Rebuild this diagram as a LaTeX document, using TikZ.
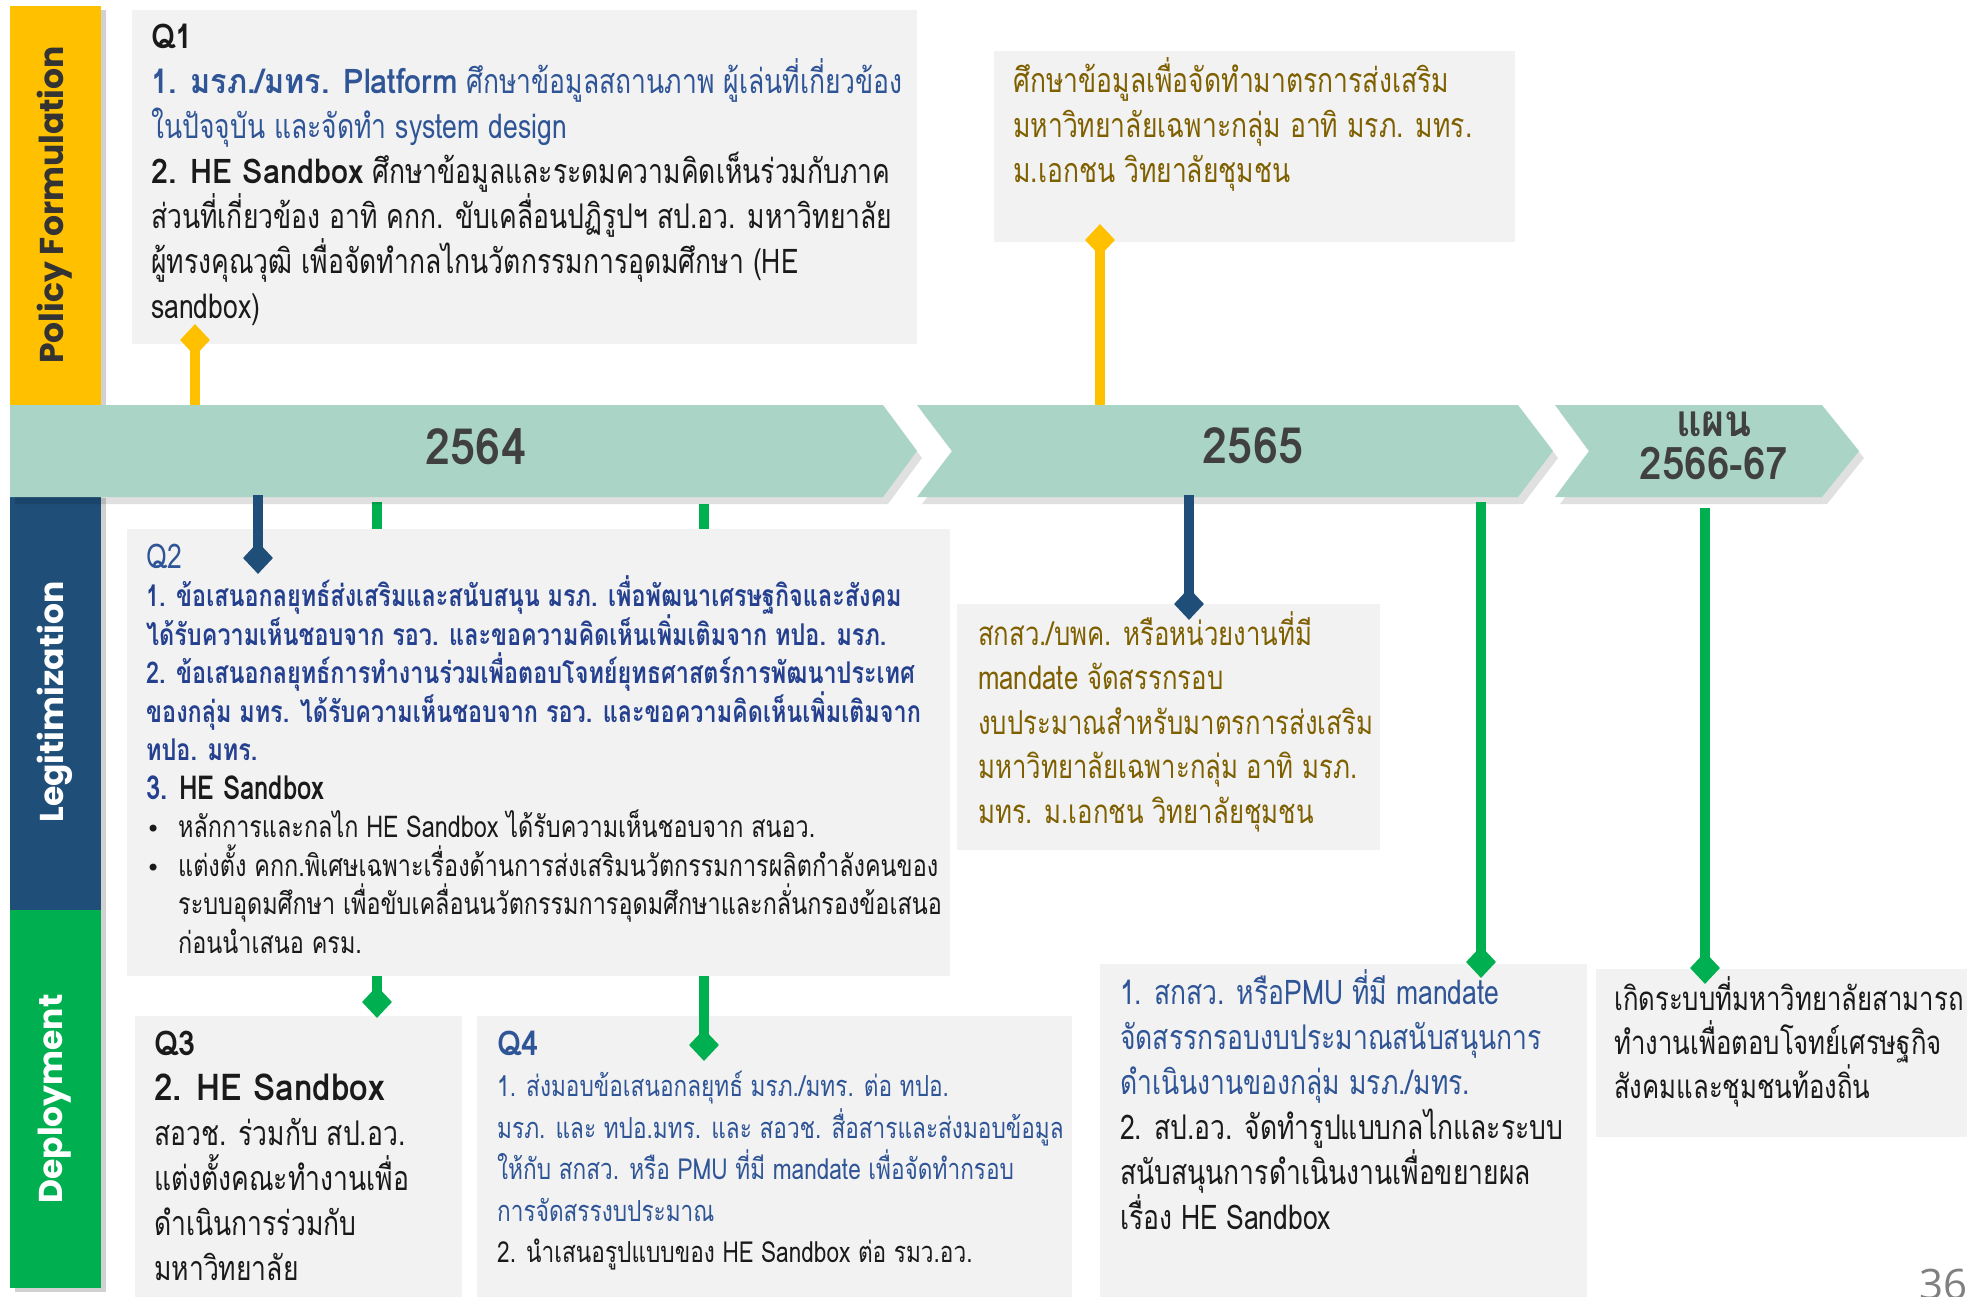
\documentclass[tikz,border=0pt]{standalone}
\usepackage{fontspec}
\usetikzlibrary{shapes.geometric}
\newfontfamily\thf[Script=Thai,FakeStretch=0.78,BoldFeatures={FakeStretch=0.9}]{Loma}
\newfontfamily\thq[Script=Thai,FakeStretch=0.78]{Loma}
\newfontfamily\labf{Poppins}
\newfontfamily\symf{DejaVu Sans}
\newfontfamily\pagef{Open Sans}
\definecolor{yel}{HTML}{FFC000}
\definecolor{navy}{HTML}{1F4E79}
\definecolor{grn}{HTML}{00B050}
\definecolor{tl}{HTML}{AAD4C6}
\definecolor{boxg}{HTML}{F2F2F2}
\definecolor{bluet}{HTML}{2F5597}
\definecolor{navyt}{HTML}{24408E}
\definecolor{olv}{HTML}{7F6000}
\definecolor{blk}{HTML}{1A1A1A}
\definecolor{yeart}{HTML}{404040}
\newcommand\lines[1]{\vtop{\lineskiplimit=-\maxdimen\lineskip=0pt\relax #1}}
\newcommand\bul{\makebox[32pt][l]{\symf\fontsize{24}{20}\selectfont •}}
\tikzset{
  box/.style={fill=boxg, anchor=north west, inner sep=0pt, outer sep=0pt},
  txt/.style={anchor=base west, inner sep=0pt, text=blk, font=\thf\fontsize{34}{45}\selectfont},
  conn/.style={line width=10pt},
  dia/.style={diamond, inner sep=0pt, minimum width=30pt, minimum height=32pt, fill=#1, draw=none},
  bar/.style={fill=#1, anchor=north west, inner sep=0pt, outer sep=0pt, minimum width=91pt},
  barlab/.style={rotate=90, inner sep=0pt, font=\labf\bfseries\fontsize{33}{36}\selectfont},
  year/.style={anchor=base, inner sep=0pt, text=yeart, font=\thf\bfseries\fontsize{50}{50}\selectfont},
  shad/.style={fill=black, opacity=#1, draw=none},
}
\begin{document}
\begin{tikzpicture}[x=1pt, y=-1pt]
\useasboundingbox (0,0) rectangle (1967,1296);

% side bars with shadows
\fill[shad=0.18] (15,10) rectangle (106,410);
\fill[shad=0.18] (15,498) rectangle (106,1292);
\node[bar=yel, minimum height=400pt] (pfbar) at (10,6) {};
\node[bar=navy, minimum height=417pt] (lgbar) at (10,494) {};
\node[bar=grn, minimum height=378pt] (dpbar) at (10,910) {};
\node[barlab, text=black!80] (pflab) at (55,205) {Policy Formulation};
\node[barlab, text=white] (lglab) at (55,702) {Legitimization};
\node[barlab, text=white] (dplab) at (55,1099) {Deployment};

% boxes (bottom row first)
\node[box, minimum width=327pt, minimum height=290pt] (q3box) at (135,1016) {};
\node[box, minimum width=595pt, minimum height=290pt] (q4box) at (477,1016) {};
\node[box, minimum width=487pt, minimum height=340pt] (r1box) at (1100,964) {};
\node[box, minimum width=380pt, minimum height=168pt] (r2box) at (1596,969) {};
\node[box, minimum width=785pt, minimum height=334pt] (q1box) at (132,10) {};
\node[box, minimum width=521pt, minimum height=191pt] (t65box) at (994,51) {};
\node[box, minimum width=423pt, minimum height=246pt] (l65box) at (957,604) {};

% connector start points
\coordinate (s1) at (195,405);
\coordinate (s2) at (1100,405);
\coordinate (s3) at (258,495);
\coordinate (s4) at (377,502);
\coordinate (s5) at (704,504);
\coordinate (s6) at (1189,495);
\coordinate (s7) at (1481,502);
\coordinate (s8) at (1705,508);

% diamonds positions
\coordinate (p1) at (195,340);
\coordinate (p2) at (1100,240);
\coordinate (p3) at (258,558);
\coordinate (p4) at (377,1002);
\coordinate (p5) at (704,1045);
\coordinate (p6) at (1189,604);
\coordinate (p7) at (1481,962);
\coordinate (p8) at (1705,968);

% green lines passing behind Q2 box
\draw[conn, grn] (s4) -- (p4);
\draw[conn, grn] (s5) -- (p5);

\node[box, minimum width=823pt, minimum height=447pt] (q2box) at (127,529) {};

% timeline chevrons with shadows
\fill[shad=0.12] (15,412) -- (888,412) -- (922,458) -- (888,504) -- (15,504) -- cycle;
\fill[shad=0.12] (922,412) -- (1523,412) -- (1558,458) -- (1523,504) -- (922,504) -- (957,458) -- cycle;
\fill[shad=0.12] (1560,412) -- (1827,412) -- (1864,458) -- (1827,504) -- (1560,504) -- (1594,458) -- cycle;
\fill[tl] (10,405) -- (883,405) -- (917,451) -- (883,497) -- (10,497) -- cycle;
\fill[tl] (917,405) -- (1518,405) -- (1553,451) -- (1518,497) -- (917,497) -- (952,451) -- cycle;
\fill[tl] (1555,405) -- (1822,405) -- (1859,451) -- (1822,497) -- (1555,497) -- (1589,451) -- cycle;
\node[year] (y64) at (476,464) {2564};
\node[year] (y65) at (1253,463) {2565};
\node[year, font=\thf\bfseries\fontsize{44}{46}\selectfont] (y66a) at (1714,436) {แผน};
\node[year, font=\thf\bfseries\fontsize{45}{46}\selectfont] (y66b) at (1714,479) {2566-67};

% other connectors
\draw[conn, yel] (s1) -- (p1);
\draw[conn, yel] (s2) -- (p2);
\draw[conn, navy] (s3) -- (p3);
\draw[conn, navy] (s6) -- (p6);
\draw[conn, grn] (s7) -- (p7);
\draw[conn, grn] (s8) -- (p8);

% diamonds
\node[dia=yel] (d1) at (p1) {};
\node[dia=yel] (d2) at (p2) {};
\node[dia=navy] (d3) at (p3) {};
\node[dia=grn] (d4) at (p4) {};
\node[dia=grn] (d5) at (p5) {};
\node[dia=navy] (d6) at (p6) {};
\node[dia=grn] (d7) at (p7) {};
\node[dia=grn] (d8) at (p8) {};

% texts
\node[txt] (q1txt) at (151,48) {\lines{%
\hbox{\bfseries Q1}
\hbox{\color{bluet}\bfseries 1. มรภ./มทร. Platform\mdseries\ ศึกษาข้อมูลสถานภาพ ผู้เล่นที่เกี่ยวข้อง}
\hbox{\color{bluet}ในปัจจุบัน และจัดทำ system design}
\hbox{\bfseries 2. HE Sandbox\mdseries\ ศึกษาข้อมูลและระดมความคิดเห็นร่วมกับภาค}
\hbox{ส่วนที่เกี่ยวข้อง อาทิ คกก. ขับเคลื่อนปฏิรูปฯ สป.อว. มหาวิทยาลัย}
\hbox{ผู้ทรงคุณวุฒิ เพื่อจัดทำกลไกนวัตกรรมการอุดมศึกษา (HE}
\hbox{sandbox)}}};

\node[txt, text=olv] (t65txt) at (1013,92) {\lines{%
\hbox{ศึกษาข้อมูลเพื่อจัดทำมาตรการส่งเสริม}
\hbox{มหาวิทยาลัยเฉพาะกลุ่ม อาทิ มรภ. มทร.}
\hbox{ม.เอกชน วิทยาลัยชุมชน}}};

\node[txt, font=\thq\fontsize{30}{38.5}\selectfont] (q2txt) at (146,568) {\lines{%
\hbox{\color{bluet}\fontsize{34}{38.5}\selectfont Q2}
\hbox{\color{navyt}\bfseries 1. ข้อเสนอกลยุทธ์ส่งเสริมและสนับสนุน มรภ. เพื่อพัฒนาเศรษฐกิจและสังคม}
\hbox{\color{navyt}\bfseries ได้รับความเห็นชอบจาก รอว. และขอความคิดเห็นเพิ่มเติมจาก ทปอ. มรภ.}
\hbox{\color{navyt}\bfseries 2. ข้อเสนอกลยุทธ์การทำงานร่วมเพื่อตอบโจทย์ยุทธศาสตร์การพัฒนาประเทศ}
\hbox{\color{navyt}\bfseries ของกลุ่ม มทร. ได้รับความเห็นชอบจาก รอว. และขอความคิดเห็นเพิ่มเติมจาก}
\hbox{\color{navyt}\bfseries ทปอ. มทร.}
\hbox{\fontsize{33}{38.5}\selectfont\bfseries\color{navyt}3. \color{blk}HE Sandbox}
\hbox{\bul หลักการและกลไก HE Sandbox ได้รับความเห็นชอบจาก สนอว.}
\hbox{\bul แต่งตั้ง คกก.พิเศษเฉพาะเรื่องด้านการส่งเสริมนวัตกรรมการผลิตกำลังคนของ}
\hbox{\hspace{32pt}ระบบอุดมศึกษา เพื่อขับเคลื่อนนวัตกรรมการอุดมศึกษาและกลั่นกรองข้อเสนอ}
\hbox{\hspace{32pt}ก่อนนำเสนอ ครม.}}};

\node[txt, text=olv, font=\thf\fontsize{33}{44.5}\selectfont] (l65txt) at (978,645) {\lines{%
\hbox{สกสว./บพค. หรือหน่วยงานที่มี}
\hbox{mandate จัดสรรกรอบ}
\hbox{งบประมาณสำหรับมาตรการส่งเสริม}
\hbox{มหาวิทยาลัยเฉพาะกลุ่ม อาทิ มรภ.}
\hbox{มทร. ม.เอกชน วิทยาลัยชุมชน}}};

\node[txt] (q3txt) at (154,1055) {\lines{%
\hbox{\bfseries Q3}
\hbox{\fontsize{37}{45}\selectfont\bfseries 2. HE Sandbox}
\hbox{สอวช. ร่วมกับ สป.อว.}
\hbox{แต่งตั้งคณะทำงานเพื่อ}
\hbox{ดำเนินการร่วมกับ}
\hbox{มหาวิทยาลัย}}};

\node[txt, font=\thq\fontsize{29}{41.5}\selectfont] (q4txt) at (497,1055) {\lines{%
\hbox{\color{bluet}\thf\fontsize{34}{41.5}\selectfont\bfseries Q4}
\hbox{\color{bluet}1. ส่งมอบข้อเสนอกลยุทธ์ มรภ./มทร. ต่อ ทปอ.}
\hbox{\color{bluet}มรภ. และ ทปอ.มทร. และ สอวช. สื่อสารและส่งมอบข้อมูล}
\hbox{\color{bluet}ให้กับ สกสว. หรือ PMU ที่มี mandate เพื่อจัดทำกรอบ}
\hbox{\color{bluet}การจัดสรรงบประมาณ}
\hbox{2. นำเสนอรูปแบบของ HE Sandbox ต่อ รมว.อว.}}};

\node[txt] (r1txt) at (1120,1004) {\lines{%
\hbox{\color{bluet}1. สกสว. หรือPMU ที่มี mandate}
\hbox{\color{bluet}จัดสรรกรอบงบประมาณสนับสนุนการ}
\hbox{\color{bluet}ดำเนินงานของกลุ่ม มรภ./มทร.}
\hbox{2. สป.อว. จัดทำรูปแบบกลไกและระบบ}
\hbox{สนับสนุนการดำเนินงานเพื่อขยายผล}
\hbox{เรื่อง HE Sandbox}}};

\node[txt, font=\thf\fontsize{33}{44}\selectfont] (r2txt) at (1614,1010) {\lines{%
\hbox{เกิดระบบที่มหาวิทยาลัยสามารถ}
\hbox{ทำงานเพื่อตอบโจทย์เศรษฐกิจ}
\hbox{สังคมและชุมชนท้องถิ่น}}};

\node[anchor=base west, inner sep=0pt, text=black!50, font=\pagef\fontsize{42}{46}\selectfont] (pgnum) at (1919,1299) {36};
\end{tikzpicture}
\end{document}
